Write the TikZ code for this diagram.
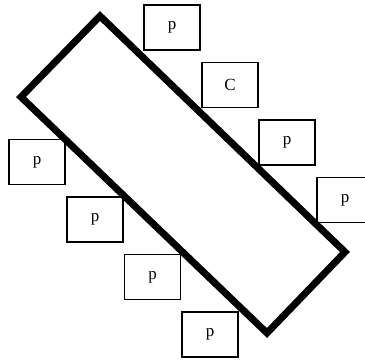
\documentclass[tikz,border=0pt]{standalone}
\usepackage{fontspec}
\setmainfont{Liberation Serif}
\begin{document}
\begin{tikzpicture}[x=1pt,y=-1pt,
  lbl/.style={draw=black,line width=1.5pt,minimum width=56pt,minimum height=45pt,inner sep=0pt,font=\fontsize{17}{19}\selectfont}]
\useasboundingbox (0,0) rectangle (365,360);
\coordinate (T) at (100,16);
\coordinate (R) at (345,252);
\coordinate (B) at (267,333);
\coordinate (L) at (21,97);
\draw[line width=7pt,line join=miter] (T) -- (R) -- (B) -- (L) -- cycle;
\node[lbl] (p1) at (172,27.5) {p};
\node[lbl] (c) at (230,85) {C};
\node[lbl] (p2) at (287,142.5) {p};
\node[lbl] (p3) at (345,200) {p};
\node[lbl] (q1) at (37,162) {p};
\node[lbl] (q2) at (95,219.5) {p};
\node[lbl] (q3) at (152.5,277) {p};
\node[lbl] (q4) at (210,334.5) {p};
\end{tikzpicture}
\end{document}
